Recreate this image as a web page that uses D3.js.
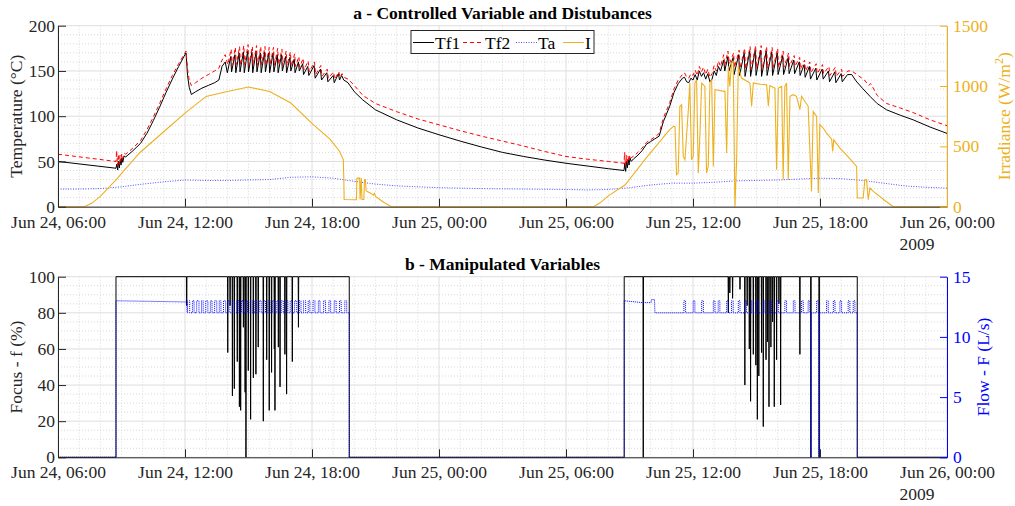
<!DOCTYPE html>
<html><head><meta charset="utf-8">
<script src="https://cdn.jsdelivr.net/npm/d3@7"></script>
<style>
body{margin:0;background:#fff;}
svg text{font-family:"Liberation Serif","Times New Roman",Times,"DejaVu Serif",serif !important;}
</style></head><body><svg id="c" width="1015" height="506"></svg>
<script>
// ---------- DATA (hours since Jun 24 2009 00:00) ----------
const xTickHours = [6,12,18,24,30,36,42,48];
const tempTicks = [0,50,100,150,200];
const irrTicks = [0,500,1000,1500];
const focusTicks = [0,20,40,60,80,100];
const flowTicks = [0,5,10,15];
const seriesNames = ["Tf1","Tf2","Ta","I"];

const tf1 = [
[6,50],[8.74,42.5],[8.78,47],[8.82,40.5],[8.86,50],[8.9,43],[8.94,52],[8.98,46],[9.02,54],[9.06,49],[9.12,56],[9.2,55],[9.5,61],[9.9,70],[10.2,81],[10.5,95],[10.8,110],[11.1,126],[11.4,141],[11.7,155],[11.95,166],[12.05,170],[12.12,145],[12.2,132],[12.3,124],[12.5,127],[12.8,131],[13.1,134],[13.4,137],[13.6,140],[13.75,155],[13.9,160],
[14.0,148],[14.16,166],[14.2,149],[14.36,168],[14.4,148],[14.56,170],[14.6,149],[14.76,171],[14.8,148],[14.96,172],[15.0,149],[15.16,171],[15.2,148],[15.36,172],[15.4,149],[15.56,170],[15.6,148],[15.76,171],[15.8,149],[15.96,170],[16.0,148],[16.16,170],[16.2,149],[16.36,168],[16.4,148],[16.56,168],[16.6,150],[16.76,166],[16.8,148],[16.96,165],[17.0,150],[17.16,163],[17.2,148],[17.36,160],[17.4,150],[17.56,158],[17.6,146],[17.8,155],[17.85,145],[18.1,156],[18.15,142],[18.4,152],[18.45,140],[18.7,148],[18.75,138],[19.0,145],[19.05,137],[19.25,147],[19.3,140],[19.4,145],[19.5,140],[19.7,137],
[20.0,127],[20.4,118],[21,107],[22,96],[23,87],[24,79.5],[25,72.5],[26,66],[27,60],[28,55.5],[29,51.5],[30,48],[31,45],[32,42],[32.74,40],
[32.78,48],[32.82,39],[32.86,50],[32.9,43],[32.94,52],[32.98,46],[33.02,54],[33.08,50],[33.2,53],[33.4,57],[33.6,62],[33.8,69],[34.0,72],[34.2,75],[34.4,78],[34.6,94],[34.9,111],[35.1,126],[35.3,136],[35.5,142],[35.6,143],[35.7,138],[35.8,137],[35.9,142],[36.0,140],[36.1,146],[36.2,140],[36.3,150],[36.4,144],[36.5,148],[36.6,141],[36.7,147],[36.8,138],[36.9,141],[37.0,150],[37.1,145],[37.2,155],[37.3,150],[37.45,162],[37.5,150],[37.65,166],
[37.7,150],[37.9,165],[37.94,146],[38.16,168],[38.2,145],[38.42,170],[38.46,144],[38.68,172],[38.72,144],[38.94,173],[38.98,145],[39.2,173],[39.24,144],[39.46,172],[39.5,145],[39.72,171],[39.76,145],[39.98,170],[40.02,146],[40.24,167],[40.28,146],[40.5,165],[40.54,147],[40.76,162],[40.8,147],[41.02,160],[41.06,145],[41.25,157],[41.3,143],[41.5,155],[41.55,141],[41.8,153],[41.85,140],[42.1,152],[42.15,141],[42.4,150],[42.45,138],[42.7,149],[42.75,137],[43.0,147],[43.05,138],[43.3,146],[43.5,146],[43.7,139],[44.0,131],[44.36,122],[44.7,114],[45.15,107],[45.8,101],[46.4,96],[47.2,88],[48,81]
];

const tf2 = [
[6,58],[8.74,50],[8.77,62],[8.81,45],[8.85,58],[8.89,47],[8.93,57],[8.97,50],[9.01,58],[9.05,53],[9.12,59],[9.2,58],[9.5,64],[9.9,73],[10.2,85],[10.5,99],[10.8,114],[11.1,130],[11.4,145],[11.7,158],[11.95,168],[12.05,172],[12.12,152],[12.2,140],[12.3,134],[12.5,137],[12.8,142],[13.1,146],[13.4,150],[13.6,153],[13.75,162],[13.9,168],
[14.02,157],[14.18,174],[14.22,156],[14.38,176],[14.42,157],[14.58,177],[14.62,156],[14.78,178],[14.82,157],[14.98,179],[15.02,156],[15.18,177],[15.22,157],[15.38,178],[15.42,156],[15.58,177],[15.62,157],[15.78,177],[15.82,156],[15.98,176],[16.02,157],[16.18,176],[16.22,156],[16.38,175],[16.42,157],[16.58,174],[16.62,156],[16.78,172],[16.82,156],[16.98,171],[17.02,155],[17.18,169],[17.22,155],[17.38,166],[17.42,154],[17.58,164],[17.62,151],[17.82,161],[17.87,149],[18.12,160],[18.17,146],[18.42,156],[18.47,144],[18.72,152],[18.77,142],[19.02,149],[19.07,141],[19.27,149],[19.32,143],[19.42,147],[19.52,143],[19.7,141],
[20.0,134],[20.4,123],[21,114],[22,105],[23,97],[24,90.5],[25,84],[26,78],[27,72.5],[28,67],[29,61],[30,55.5],[31,52.5],[32,50],[32.74,48],
[32.77,60],[32.81,45],[32.85,57],[32.89,47],[32.93,56],[32.97,50],[33.01,57],[33.08,54],[33.2,56],[33.4,60],[33.6,65],[33.8,71],[34.0,74],[34.2,77],[34.4,81],[34.6,98],[34.9,115],[35.1,130],[35.3,140],[35.5,146],[35.6,148],[35.7,143],[35.8,142],[35.9,147],[36.0,145],[36.1,151],[36.2,145],[36.3,155],[36.4,149],[36.5,154],[36.6,146],[36.7,152],[36.8,143],[36.9,147],[37.0,156],[37.1,150],[37.2,161],[37.3,155],[37.45,168],[37.5,156],[37.65,172],
[37.72,158],[37.92,170],[37.96,154],[38.18,173],[38.22,153],[38.44,175],[38.48,152],[38.7,177],[38.74,152],[38.96,178],[39.0,153],[39.22,178],[39.26,152],[39.48,177],[39.52,153],[39.74,176],[39.78,153],[40.0,175],[40.04,154],[40.26,172],[40.3,154],[40.52,170],[40.56,155],[40.78,167],[40.82,155],[41.04,165],[41.08,152],[41.27,162],[41.32,150],[41.52,160],[41.57,148],[41.82,158],[41.87,147],[42.12,157],[42.17,147],[42.42,155],[42.47,145],[42.72,154],[42.77,144],[43.02,152],[43.07,144],[43.32,150],[43.5,150],[43.8,145],[44.1,140],[44.3,134],[44.4,136],[44.7,123],[45.15,114],[45.8,109],[46.4,104],[47.2,96],[48,89.5]
];

const ta = [
[6,19.5],[7,19.5],[8,20],[9,22],[10,25],[11,27.5],[12,29.5],[13,29],[14,29],[15,29.5],[16,30],[17,32.5],[18,33],[19,31.5],[20,28],[21,25],[22,23],[24,21],[26,20],[28,19.5],[30,19],[31,18.5],[32,19],[33,21],[34,24],[35,26],[36,26],[37,27],[38,28.5],[40,29.5],[42,31.5],[43,31],[44,29],[45,26],[46,23],[47,21.5],[48,20.5]
];

const irr = [
[6,0],[7.25,0],[7.6,30],[8,85],[8.75,224],[9.85,445],[11.1,638],[12,776],[13,914],[14,955],[15,992],[16,955],[17,859],[18.06,680],[18.85,560],[19.3,460],[19.48,390],[19.5,250],[19.52,60],[20.1,58],[20.12,235],[20.25,238],[20.27,60],[20.33,238],[20.36,60],[20.45,60],[20.48,225],[20.52,225],[20.56,130],[20.8,110],[20.9,95],[20.95,110],[21.0,85],[21.2,60],[21.4,35],[21.76,0],
[31.3,0],[31.6,30],[32,90],[32.8,182],[33.8,406],[34.44,541],[34.9,638],[35.07,665],[35.15,665],[35.22,265],[35.3,279],[35.38,832],[35.46,845],[35.54,417],[35.62,390],[35.78,804],[35.85,1025],[35.93,390],[36.01,417],[36.09,1025],[36.17,1052],[36.25,279],[36.33,610],[36.41,1025],[36.56,997],[36.64,279],[36.72,334],[36.8,1025],[36.88,1052],[36.96,334],[37.04,970],[37.2,965],[37.35,960],[37.51,956],[37.59,445],[37.67,1163],[37.74,997],[37.82,1190],[37.9,1204],[37.98,0],[38.06,376],[38.14,1163],[38.29,1066],[38.45,1050],[38.6,1035],[38.69,1025],[38.77,832],[38.85,1025],[39.0,1020],[39.2,1015],[39.48,1011],[39.56,832],[39.63,1003],[39.87,983],[39.95,307],[40.03,983],[40.19,997],[40.26,224],[40.34,997],[40.42,1025],[40.5,224],[40.58,915],[40.74,928],[40.89,915],[41.05,804],[41.13,915],[41.44,832],[41.6,127],[41.68,790],[41.84,749],[41.92,113],[41.99,680],[42.15,652],[42.31,610],[42.55,560],[42.6,458],[42.65,555],[42.94,486],[43.3,420],[43.73,334],[43.76,72],[44.04,72],[44.12,224],[44.2,224],[44.28,58],[44.36,155],[44.52,127],[45.0,60],[45.46,0],[48,0]
];

// Focus: on/off steps and short dips (hour, value)
const focusSteps = [[6,0],[8.74,0],[8.74,100],[19.76,100],[19.76,0],[32.75,0],[32.75,100],[43.76,100],[43.76,0],[48,0]];
const focusDipHour = [12.08,14.02,14.13,14.24,14.33,14.47,14.57,14.63,14.76,14.84,14.88,14.99,15.1,15.23,15.35,15.46,15.7,15.86,15.98,16.09,16.22,16.25,16.41,16.49,16.72,16.8,17.07,17.36,
  33.65,37.67,37.74,37.87,38.22,38.45,38.56,38.66,38.72,38.85,38.97,39.04,39.11,39.24,39.32,39.45,39.52,39.59,39.68,39.76,39.84,39.95,40.06,40.14,41.05,41.57,41.96];
const focusDipValue = [84,58,84,34,38,53,28,26,72,36,0,48,21,44,46,61,20,54,26,47,60,26,61,39,57,35,53,72,
  0,80,91,88,93,40,84,60,31,57,51,21,45,58,17,54,64,28,61,75,28,54,85,29,57,0,0];

// Flow: base levels and pulses (hour, L/s)
const flowSteps = [[6,0],[8.74,0],[8.74,13.0],[10.5,12.95],[12.08,12.9],[12.1,12.0],[19.76,12.0],[19.76,0],[32.75,0],[32.75,13.0],[33.6,12.85],[34.02,12.85],[34.04,13.1],[34.18,13.1],[34.2,12.0],[43.76,12.0],[43.76,0],[48,0]];
const flowPulses = [[12.12,12.22],[12.35,12.43],[12.55,12.66],[12.78,12.86],[12.98,13.08],[13.2,13.28],[13.4,13.5],[13.62,13.7],[13.82,13.92],[14.03,14.12],[14.24,14.33],[14.45,14.55],[14.66,14.75],[14.87,14.96],[15.08,15.18],[15.3,15.38],[15.5,15.6],[15.72,15.8],[15.92,16.02],[16.13,16.22],[16.34,16.44],[16.55,16.64],[16.76,16.86],[16.97,17.06],[17.18,17.28],[17.4,17.48],[17.6,17.7],[17.82,17.9],[18.05,18.14],[18.3,18.38],[18.55,18.64],[18.8,18.88],[19.05,19.14],[19.3,19.38],[19.55,19.64],
  [35.57,35.65],[36.01,36.09],[36.41,36.49],[36.96,37.04],[37.19,37.27],[37.59,37.67],[37.82,37.9],[38.14,38.22],[38.45,38.53],[38.77,38.85],[39.0,39.08],[39.32,39.4],[39.63,39.71],[39.95,40.03],[40.34,40.42],[40.74,40.82],[41.13,41.21],[41.44,41.52],[41.84,41.92],[42.31,42.39],[42.63,42.71],[42.94,43.02],[43.33,43.41],[43.57,43.65]];
const flowLow = 12.0, flowHigh = 13.0;
const flowZeroDips = [41.57,41.96];

// ---------- DRAW ----------
const svg = d3.select("#c");
const FONT = "'Liberation Serif','Times New Roman',Times,serif";
const FS = 17.5;
const AX = "#262626";
const ORANGE = "#EDB120";
const BLUE = "#0000FF";
const base = new Date(2009,5,24,0,0,0);
const T = h => new Date(base.getTime() + h*3600e3);
const X0 = 58, X1 = 947;
const x = d3.scaleTime().domain([T(6),T(48)]).range([X0,X1]);
const fmt = d3.timeFormat("%b %d, %H:%M");

function styleText(sel, col){
  sel.attr("fill",col).attr("font-family",FONT).style("font-family",FONT).style("font-size",FS+"px");
}

function drawPanel(o){
  const g = svg.append("g");
  const yL = d3.scaleLinear().domain(o.lDom).range([o.y1,o.y0]);
  const yR = d3.scaleLinear().domain(o.rDom).range([o.y1,o.y0]);
  const minorX = d3.range(7,48).filter(h=>h%6!==0);
  g.selectAll(".mx").data(minorX).join("line")
    .attr("x1",h=>x(T(h))).attr("x2",h=>x(T(h))).attr("y1",o.y0).attr("y2",o.y1)
    .attr("stroke","#cfcfcf").attr("stroke-dasharray","1,2").attr("stroke-width",0.8);
  const minorY = d3.range(o.lDom[0],o.lDom[1],o.minorStep).filter(v=>v%o.majorStep!==0);
  g.selectAll(".my").data(minorY).join("line")
    .attr("x1",X0).attr("x2",X1).attr("y1",v=>yL(v)).attr("y2",v=>yL(v))
    .attr("stroke","#cfcfcf").attr("stroke-dasharray","1,2").attr("stroke-width",0.8);
  g.selectAll(".gx").data(xTickHours).join("line")
    .attr("x1",h=>x(T(h))).attr("x2",h=>x(T(h))).attr("y1",o.y0).attr("y2",o.y1)
    .attr("stroke","#dedede").attr("stroke-width",1);
  g.selectAll(".gy").data(o.lTicks).join("line")
    .attr("x1",X0).attr("x2",X1).attr("y1",v=>yL(v)).attr("y2",v=>yL(v))
    .attr("stroke","#dedede").attr("stroke-width",1);
  const cid = "clip"+o.id;
  svg.append("clipPath").attr("id",cid).append("rect")
    .attr("x",X0).attr("y",o.y0-1).attr("width",X1-X0).attr("height",o.y1-o.y0+2);
  const plot = svg.append("g").attr("clip-path",`url(#${cid})`);
  const xa = d3.axisBottom(x).tickValues(xTickHours.map(T)).tickFormat(fmt)
    .tickSizeInner(-8).tickSizeOuter(0).tickPadding(8.5);
  const xg = svg.append("g").attr("transform",`translate(0,${o.y1})`).call(xa).attr("font-family",FONT);
  xg.select(".domain").attr("stroke",AX);
  xg.selectAll(".tick line").attr("stroke",AX);
  styleText(xg.selectAll("text"),AX);
  const texts = xg.selectAll(".tick text").nodes();
  const w = texts[texts.length-1].getComputedTextLength();
  styleText(svg.append("text").attr("x",x(T(48))-w/2).attr("y",o.y1+8.5+0.71*FS+22).text("2009"),AX);

  const la = d3.axisLeft(yL).tickValues(o.lTicks).tickFormat(d3.format("d")).tickSizeInner(-8).tickSizeOuter(0).tickPadding(3);
  const lg = svg.append("g").attr("transform",`translate(${X0},0)`).call(la).attr("font-family",FONT);
  lg.select(".domain").attr("stroke",AX);
  lg.selectAll(".tick line").attr("stroke",AX);
  styleText(lg.selectAll("text"),AX);

  const ra = d3.axisRight(yR).tickValues(o.rTicks).tickFormat(d3.format("d")).tickSizeInner(-7).tickSizeOuter(0).tickPadding(6);
  const rg = svg.append("g").attr("transform",`translate(${X1},0)`).call(ra).attr("font-family",FONT);
  rg.select(".domain").attr("stroke",o.rColor);
  rg.selectAll(".tick line").attr("stroke",o.rColor);
  styleText(rg.selectAll("text"),o.rColor);

  const tt = svg.append("text").attr("x",(X0+X1)/2).attr("y",o.y0-7).attr("text-anchor","middle").text(o.title);
  styleText(tt,"#000"); tt.style("font-weight","bold");
  const cy = (o.y0+o.y1)/2;
  styleText(svg.append("text").attr("transform",`translate(${16},${cy}) rotate(-90)`).attr("dy","0.35em")
    .attr("text-anchor","middle").text(o.lLabel),AX);
  const rl = svg.append("text").attr("transform",`translate(${o.rLabelX},${cy}) rotate(-90)`).attr("dy","0.35em")
    .attr("text-anchor","middle");
  styleText(rl,o.rColor);
  o.rLabel(rl);
  return {plot,yL,yR};
}

const panelA = drawPanel({id:"a",y0:25.7,y1:206.7,lDom:[0,200],rDom:[0,1500],lTicks:tempTicks,rTicks:irrTicks,
  minorStep:10,majorStep:50,rColor:ORANGE,title:"a - Controlled Variable and Distubances",
  lLabel:"Temperature (°C)",rLabelX:1004,
  rLabel:t=>{t.append("tspan").text("Irradiance (W/m");
             t.append("tspan").attr("baseline-shift","super").style("font-size","12px").text("2");
             t.append("tspan").text(")");}});

const panelB = drawPanel({id:"b",y0:276.7,y1:457.3,lDom:[0,100],rDom:[0,15],lTicks:focusTicks,rTicks:flowTicks,
  minorStep:5,majorStep:20,rColor:BLUE,title:"b - Manipulated Variables",
  lLabel:"Focus - f (%)",rLabelX:983,
  rLabel:t=>t.text("Flow - F (L/s)")});

const lineL = d3.line().x(d=>x(T(d[0]))).y(d=>panelA.yL(d[1]));
const lineR = d3.line().x(d=>x(T(d[0]))).y(d=>panelA.yR(d[1]));
panelA.plot.append("path").datum(tf1).attr("d",lineL).attr("fill","none").attr("stroke","#000").attr("stroke-width",1);
panelA.plot.append("path").datum(tf2).attr("d",lineL).attr("fill","none").attr("stroke","#ff0000").attr("stroke-width",1).attr("stroke-dasharray","4,3");
panelA.plot.append("path").datum(ta).attr("d",lineL).attr("fill","none").attr("stroke","#5050ff").attr("stroke-width",1).attr("stroke-dasharray","1,1.5");
panelA.plot.append("path").datum(irr).attr("d",lineR).attr("fill","none").attr("stroke",ORANGE).attr("stroke-width",1.1);

const focus = focusSteps.slice();
focusDipHour.forEach((h,i)=>{ focus.push([h-0.012,100],[h,focusDipValue[i]],[h+0.012,100]); });
focus.sort((a,b)=>a[0]-b[0]);
const flow = flowSteps.slice();
flowPulses.forEach(p=>{ flow.push([p[0],flowLow],[p[0],flowHigh],[p[1],flowHigh],[p[1],flowLow]); });
flowZeroDips.forEach(h=>{ flow.push([h-0.015,flowLow],[h-0.015,0],[h+0.015,0],[h+0.015,flowLow]); });
flow.sort((a,b)=>a[0]-b[0]);
const lineF = d3.line().x(d=>x(T(d[0]))).y(d=>panelB.yL(d[1]));
const lineQ = d3.line().x(d=>x(T(d[0]))).y(d=>panelB.yR(d[1]));
panelB.plot.append("path").datum(focus).attr("d",lineF).attr("fill","none").attr("stroke","#000").attr("stroke-width",1);
panelB.plot.append("path").datum(flow).attr("d",lineQ).attr("fill","none").attr("stroke",BLUE).attr("stroke-width",1).attr("stroke-dasharray","1,1");

const leg = svg.append("g");
leg.append("rect").attr("x",411).attr("y",30.5).attr("width",183).attr("height",23)
  .attr("fill","#fff").attr("stroke",AX).attr("stroke-width",1);
const legStyle = [
  {c:"#000",d:null,x:413},
  {c:"#ff0000",d:"4,3",x:463},
  {c:"#5050ff",d:"1,1.5",x:516},
  {c:ORANGE,d:null,x:563}];
seriesNames.forEach((n,i)=>{
  const s = legStyle[i];
  const l = leg.append("line").attr("x1",s.x).attr("x2",s.x+21).attr("y1",42.5).attr("y2",42.5)
    .attr("stroke",s.c).attr("stroke-width",1);
  if(s.d) l.attr("stroke-dasharray",s.d);
  styleText(leg.append("text").attr("x",s.x+22).attr("y",49).text(n),"#000");
});
</script></body></html>
